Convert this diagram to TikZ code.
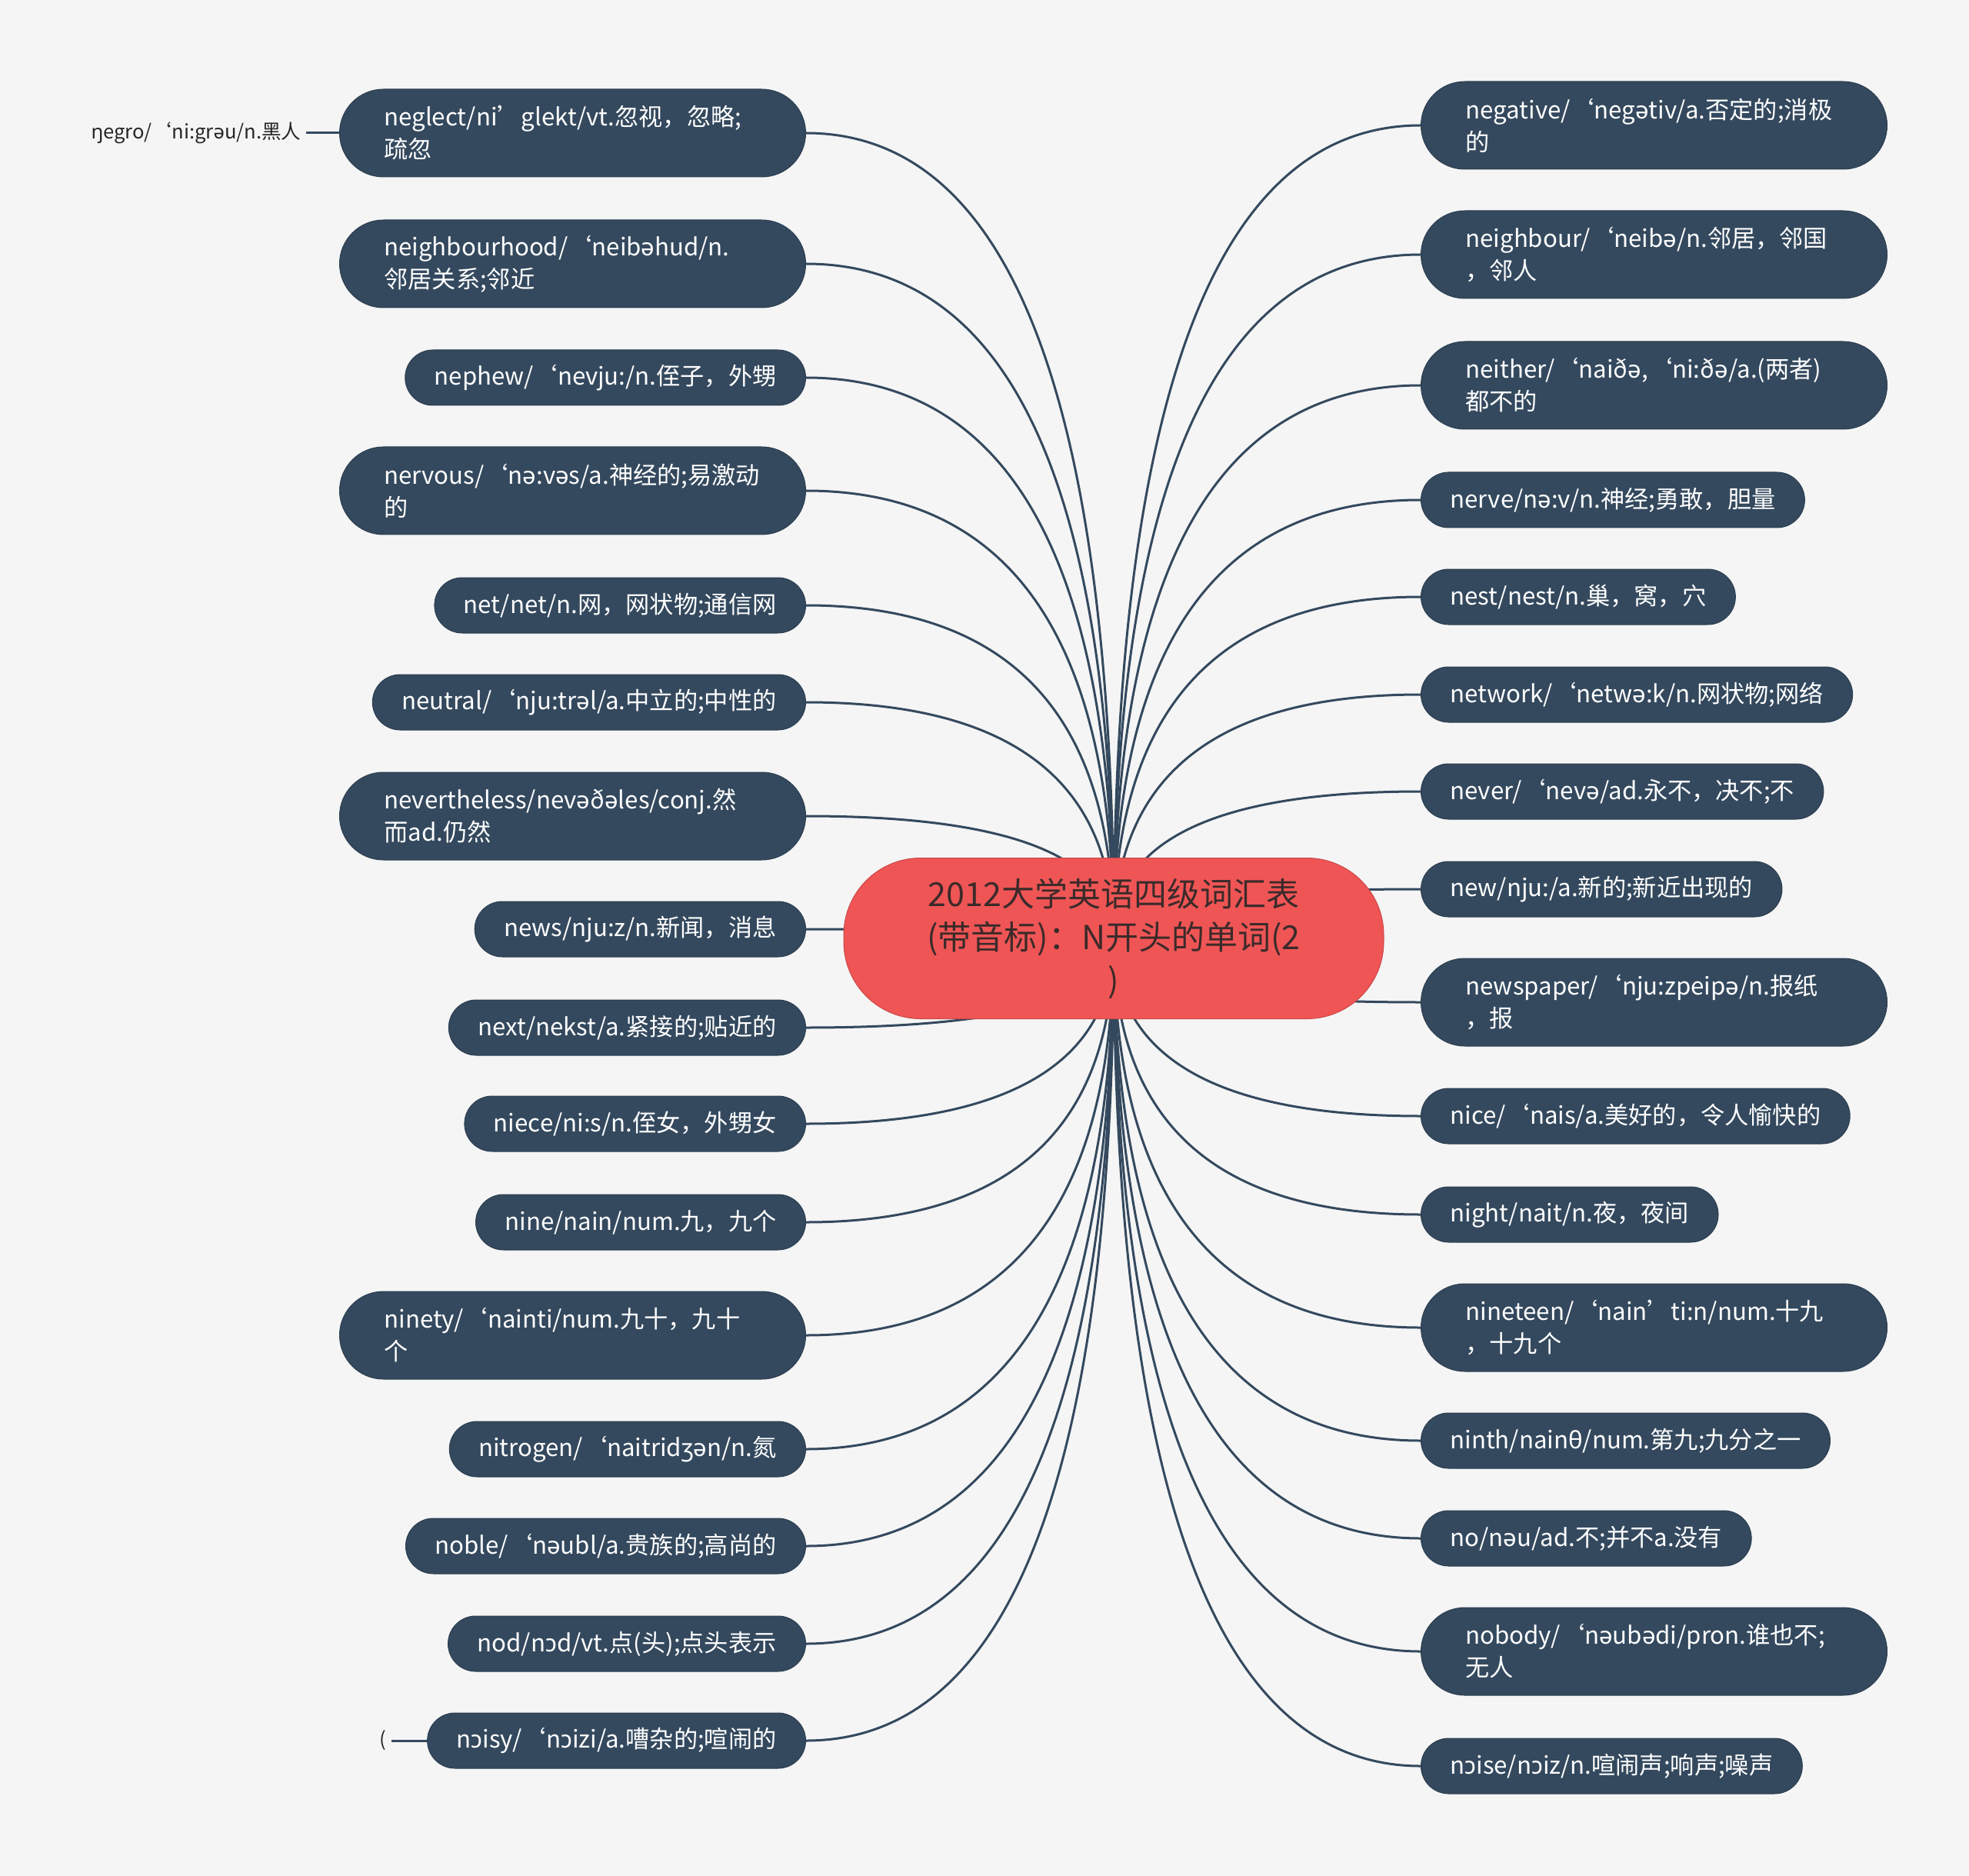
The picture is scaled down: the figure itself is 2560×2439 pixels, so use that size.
\documentclass[tikz,border=0pt]{standalone}
\usepackage{fontspec}
\setmainfont{Noto Sans CJK SC}
\newfontfamily\ipafont{Noto Sans}
\usetikzlibrary{calc}
\definecolor{navy}{RGB}{52,73,94}
\definecolor{rootred}{RGB}{239,85,85}
\definecolor{roottext}{RGB}{60,42,42}
\definecolor{paper}{RGB}{245,245,245}
\newcommand{\ipa}[1]{{\ipafont #1}}
\pgfdeclarelayer{bg}
\pgfdeclarelayer{links}
\pgfsetlayers{bg,links,main}

\begin{document}
\begin{tikzpicture}[x=0.5pt,y=-0.5pt,
  word/.style={fill=navy, draw=navy!85!black, line width=0.5pt, text=white,
    font=\fontsize{15.6}{21}\selectfont, rounded corners=18pt,
    inner xsep=19pt, inner ysep=0pt, minimum height=36pt},
  longword/.style={word, rounded corners=28.5pt, text width=245pt, align=left,
    inner xsep=29pt, minimum height=57pt},
  root/.style={fill=rootred, draw=rootred!85!black, line width=0.5pt, text=roottext,
    font=\fontsize{21.5}{28}\selectfont, rounded corners=50pt, text width=250pt,
    align=center, minimum width=351pt, minimum height=104.5pt, inner xsep=0pt},
  note/.style={text=black!85, font=\fontsize{12.8}{16}\selectfont, inner xsep=3pt},
  link/.style={draw=navy, line width=1.5pt,
    to path={.. controls ($(\tikztostart)!.667!(\tikztostart |- \tikztotarget)$)
      and ($(\tikztotarget)!.667!(\tikztostart |- \tikztotarget)$) .. (\tikztotarget)}}]

\begin{pgfonlayer}{bg}
\fill[paper] (0,0) rectangle (2560,2439);
\end{pgfonlayer}

\node[root] (root) at (1448,1220) {2012大学英语四级词汇表\\(带音标)：N开头的单词(2\\)};

\node[longword, anchor=east] (neglect) at (1048,173) {neglect/ni’glekt/vt.忽视，忽略;\\疏忽};
\node[longword, anchor=east] (neighbourhood) at (1048,343) {neighbourhood/‘neib\ipa{ə}hud/n.\\邻居关系;邻近};
\node[word, anchor=east] (nephew) at (1048,491) {nephew/‘nevju:/n.侄子，外甥};
\node[longword, anchor=east] (nervous) at (1048,638) {nervous/‘n\ipa{ə}:v\ipa{ə}s/a.神经的;易激动\\的};
\node[word, anchor=east] (net) at (1048,787) {net/net/n.网，网状物;通信网};
\node[word, anchor=east] (neutral) at (1048,913) {neutral/‘nju:tr\ipa{ə}l/a.中立的;中性的};
\node[longword, anchor=east] (nevertheless) at (1048,1061) {nevertheless/nev\ipa{ə}ð\ipa{ə}les/conj.然\\而ad.仍然};
\node[word, anchor=east] (news) at (1048,1208) {news/nju:z/n.新闻，消息};
\node[word, anchor=east] (next) at (1048,1336) {next/nekst/a.紧接的;贴近的};
\node[word, anchor=east] (niece) at (1048,1461) {niece/ni:s/n.侄女，外甥女};
\node[word, anchor=east] (nine) at (1048,1589) {nine/nain/num.九，九个};
\node[longword, anchor=east] (ninety) at (1048,1736) {ninety/‘nainti/num.九十，九十\\个};
\node[word, anchor=east] (nitrogen) at (1048,1884) {nitrogen/‘naitrid\ipa{ʒə}n/n.氮};
\node[word, anchor=east] (noble) at (1048,2010) {noble/‘n\ipa{ə}ubl/a.贵族的;高尚的};
\node[word, anchor=east] (nod) at (1048,2137) {nod/n\ipa{ɔ}d/vt.点(头);点头表示};
\node[word, anchor=east] (noisy) at (1048,2263) {n\ipa{ɔ}isy/‘n\ipa{ɔ}izi/a.嘈杂的;喧闹的};

\node[note, anchor=east] (negro) at (398,173) {\ipa{ŋ}egro/‘ni:gr\ipa{ə}u/n.黑人};
\node[note, anchor=east] (paren) at (509,2263) {(};

\node[longword, anchor=west] (negative) at (1847,163) {negative/‘neg\ipa{ə}tiv/a.否定的;消极\\的};
\node[longword, anchor=west] (neighbour) at (1847,331) {neighbour/‘neib\ipa{ə}/n.邻居，邻国\\，邻人};
\node[longword, anchor=west] (neither) at (1847,501) {neither/‘naið\ipa{ə},‘ni:ð\ipa{ə}/a.(两者)\\都不的};
\node[word, anchor=west] (nerve) at (1847,650) {nerve/n\ipa{ə}:v/n.神经;勇敢，胆量};
\node[word, anchor=west] (nest) at (1847,776) {nest/nest/n.巢，窝，穴};
\node[word, anchor=west] (network) at (1847,903) {network/‘netw\ipa{ə}:k/n.网状物;网络};
\node[word, anchor=west] (never) at (1847,1029) {never/‘nev\ipa{ə}/ad.永不，决不;不};
\node[word, anchor=west] (new) at (1847,1156) {new/nju:/a.新的;新近出现的};
\node[longword, anchor=west] (newspaper) at (1847,1303) {newspaper/‘nju:zpeip\ipa{ə}/n.报纸\\，报};
\node[word, anchor=west] (nice) at (1847,1451) {nice/‘nais/a.美好的，令人愉快的};
\node[word, anchor=west] (night) at (1847,1579) {night/nait/n.夜，夜间};
\node[longword, anchor=west] (nineteen) at (1847,1726) {nineteen/‘nain’ti:n/num.十九\\，十九个};
\node[word, anchor=west] (ninth) at (1847,1873) {ninth/nain\ipa{θ}/num.第九;九分之一};
\node[word, anchor=west] (no) at (1847,2000) {no/n\ipa{ə}u/ad.不;并不a.没有};
\node[longword, anchor=west] (nobody) at (1847,2147) {nobody/‘n\ipa{ə}ub\ipa{ə}di/pron.谁也不;\\无人};
\node[word, anchor=west] (noise) at (1847,2296) {n\ipa{ɔ}ise/n\ipa{ɔ}iz/n.喧闹声;响声;噪声};

\begin{pgfonlayer}{links}
\draw[link] (root.center) to (neglect.east);
\draw[link] (root.center) to (neighbourhood.east);
\draw[link] (root.center) to (nephew.east);
\draw[link] (root.center) to (nervous.east);
\draw[link] (root.center) to (net.east);
\draw[link] (root.center) to (neutral.east);
\draw[link] (root.center) to (nevertheless.east);
\draw[link] (root.center) to (news.east);
\draw[link] (root.center) to (next.east);
\draw[link] (root.center) to (niece.east);
\draw[link] (root.center) to (nine.east);
\draw[link] (root.center) to (ninety.east);
\draw[link] (root.center) to (nitrogen.east);
\draw[link] (root.center) to (noble.east);
\draw[link] (root.center) to (nod.east);
\draw[link] (root.center) to (noisy.east);
\draw[link] (root.center) to (negative.west);
\draw[link] (root.center) to (neighbour.west);
\draw[link] (root.center) to (neither.west);
\draw[link] (root.center) to (nerve.west);
\draw[link] (root.center) to (nest.west);
\draw[link] (root.center) to (network.west);
\draw[link] (root.center) to (never.west);
\draw[link] (root.center) to (new.west);
\draw[link] (root.center) to (newspaper.west);
\draw[link] (root.center) to (nice.west);
\draw[link] (root.center) to (night.west);
\draw[link] (root.center) to (nineteen.west);
\draw[link] (root.center) to (ninth.west);
\draw[link] (root.center) to (no.west);
\draw[link] (root.center) to (nobody.west);
\draw[link] (root.center) to (noise.west);
\draw[link] (negro.east) -- (neglect.west);
\draw[link] (paren.east) -- (noisy.west);
\end{pgfonlayer}
\end{tikzpicture}
\end{document}
